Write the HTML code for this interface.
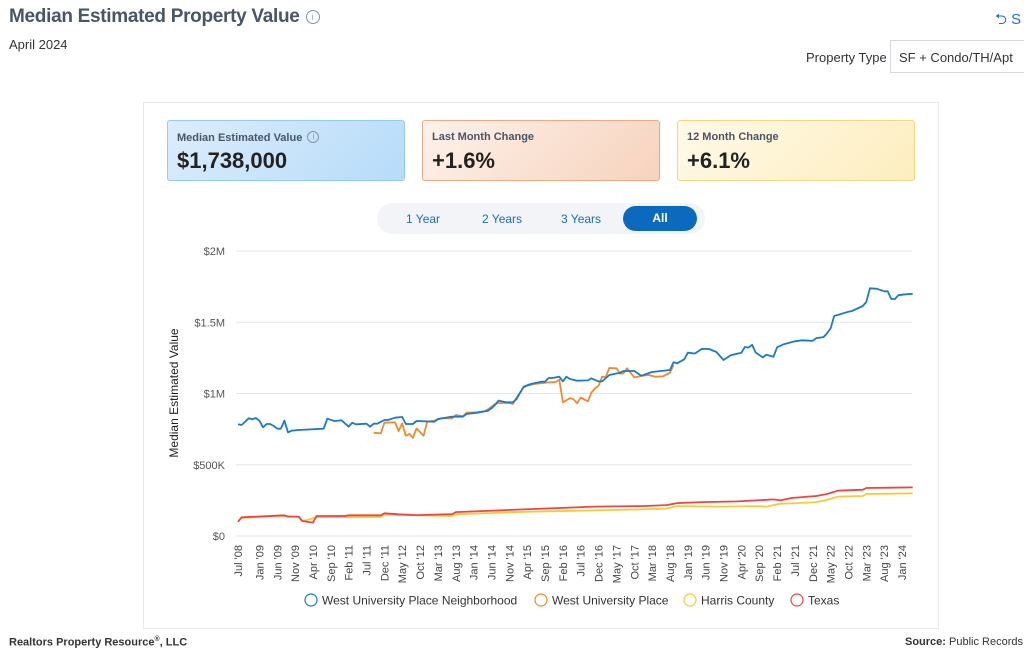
<!DOCTYPE html>
<html><head><meta charset="utf-8">
<style>
body{margin:0;width:1024px;height:650px;overflow:hidden;background:#fff;font-family:"Liberation Sans",sans-serif;position:relative;color:#333}
.abs{position:absolute}
.title{left:9px;top:6px;font-size:19px;font-weight:bold;color:#4a5568;letter-spacing:-0.3px}
.info{display:inline-block;width:12px;height:12px;border:1px solid #8a94a6;border-radius:50%;font-size:9px;text-align:center;line-height:12px;color:#8a94a6;font-weight:normal;vertical-align:2px;margin-left:6px}
.card{left:143px;top:102px;width:796px;height:527px;border:1px solid #e6eaef;box-sizing:border-box}
.kpi{top:120px;width:238px;height:61px;box-sizing:border-box;border-radius:3px}
.kpi .l{position:absolute;left:9px;top:10px;font-size:11px;font-weight:bold;color:#4a5568}
.kpi .v{position:absolute;left:9px;top:27px;font-size:22px;font-weight:bold;color:#222}
.tog{left:377px;top:203px;width:328px;height:31px;background:#f2f4f8;border-radius:16px}
.tb{top:212px;font-size:12px;color:#1a6fba}
</style></head><body>
<div class="abs title">Median Estimated Property Value<span class="info">i</span></div>
<div class="abs" style="left:9px;top:37px;font-size:13px;color:#333">April 2024</div>
<div class="abs" style="left:995px;top:9px;font-size:15px;color:#1a73c8">⮌ S</div>
<div class="abs" style="left:806px;top:50px;font-size:13px;color:#333">Property Type</div>
<div class="abs" style="left:890px;top:40px;width:150px;height:33px;border:1px solid #d5d9df;box-sizing:border-box;font-size:13px;padding:9px 8px;color:#333">SF + Condo/TH/Apt</div>
<div class="abs card"></div>
<div class="abs kpi" style="left:167px;background:linear-gradient(135deg,#dcedfb,#b6dbfa);border:1px solid #94cbf1"><div class="l">Median Estimated Value <span class="info" style="width:10px;height:10px;line-height:10px;font-size:8px;margin-left:2px">i</span></div><div class="v">$1,738,000</div></div>
<div class="abs kpi" style="left:422px;background:linear-gradient(135deg,#fdf2ea,#f7d2bd);border:1px solid #eda987"><div class="l">Last Month Change</div><div class="v">+1.6%</div></div>
<div class="abs kpi" style="left:677px;background:linear-gradient(135deg,#fff9e8,#fdeebf);border:1px solid #f3d77f"><div class="l">12 Month Change</div><div class="v">+6.1%</div></div>
<div class="abs tog"></div>
<div class="abs tb" style="left:406px">1 Year</div>
<div class="abs tb" style="left:482px">2 Years</div>
<div class="abs tb" style="left:561px">3 Years</div>
<div class="abs" style="left:623px;top:206px;width:74px;height:25px;background:#0b69be;border-radius:13px;color:#fff;font-size:12px;font-weight:bold;text-align:center;line-height:25px">All</div>
<svg class="abs" style="left:0;top:0" width="1024" height="650" id="chart"></svg>
<div class="abs" style="left:9px;top:636px;font-size:11px;color:#333;font-weight:bold">Realtors Property Resource<sup style="font-size:7px">®</sup>, LLC</div>
<div class="abs" style="left:905px;top:636px;font-size:11px;color:#333;white-space:nowrap"><b>Source:</b> Public Records and</div>
<script>
const yTicks=[0,500,1000,1500,2000];
const yTickLabels=["$0","$500K","$1M","$1.5M","$2M"];
const xLabels=["Jul '08","Jan '09","Jun '09","Nov '09","Apr '10","Sep '10","Feb '11","Jul '11","Dec '11","May '12","Oct '12","Mar '13","Aug '13","Jan '14","Jun '14","Nov '14","Apr '15","Sep '15","Feb '16","Jul '16","Dec '16","May '17","Oct '17","Mar '18","Aug '18","Jan '19","Jun '19","Nov '19","Apr '20","Sep '20","Feb '21","Jul '21","Dec '21","May '22","Oct '22","Mar '23","Aug '23","Jan '24"];
const xLabelMonths=[0,6,11,16,21,26,31,36,41,46,51,56,61,66,71,76,81,86,91,96,101,106,111,116,121,126,131,136,141,146,151,156,161,166,171,176,181,186];
// month index from Jul '08, values in $K
const nbhdMonths=[0,1,3,4,5,6,7,8,9,10,11,12,13,14,15,17,24,25,27,29,31,32,33,36,37,38,39,41,42,44,46,47,49,50,55,56,60,63,64,67,70,71,72,73,75,77,78,80,82,85,86,87,88,90,91,92,93,95,98,99,101,102,104,107,108,111,113,116,121,122,123,125,126,128,130,132,134,136,138,141,142,143,144,145,147,148,150,151,153,156,158,161,162,164,165,166,167,171,172,175,176,177,179,181,182,183,184,185,187,189];
const nbhdValues=[784,779,826,819,828,809,763,786,786,772,753,753,809,727,739,744,753,823,807,812,767,795,784,788,767,788,788,814,814,830,835,786,786,807,802,821,837,837,856,865,879,896,919,950,938,938,961,1048,1067,1083,1083,1109,1109,1118,1085,1118,1102,1090,1092,1106,1085,1085,1130,1146,1158,1158,1125,1151,1165,1219,1212,1240,1286,1281,1314,1312,1291,1235,1268,1286,1326,1322,1342,1288,1253,1272,1258,1324,1347,1366,1373,1370,1389,1396,1422,1457,1544,1574,1579,1614,1642,1738,1735,1717,1717,1663,1663,1690,1696,1700,1738];
const wupMonths=[38,40,41,44,45,46,47,48,49,50,52,53,55,57,60,61,63,64,67,69,70,72,73,76,77,78,80,81,83,87,89,90,91,93,94,95,96,98,99,100,101,102,103,104,106,107,108,109,111,113,115,117,119,121,122];
const wupValues=[725,720,795,798,737,791,704,716,690,755,704,802,809,826,826,849,840,865,868,875,889,926,933,933,926,971,1043,1055,1067,1078,1081,1097,938,968,959,931,971,945,1006,1036,1055,1118,1116,1179,1177,1139,1141,1177,1113,1123,1130,1118,1120,1146,1200];
const harrisMonths=[1,13,17,18,20,22,40,41,60,61,80,100,113,120,123,135,145,148,152,155,162,165,168,175,176,189];
const harrisValues=[128,140,133,104,118,132,135,150,140,152,170,180,187,192,210,206,210,206,227,229,238,253,276,281,295,299];
const texasMonths=[0,1,13,14,17,18,21,22,30,31,40,41,45,50,60,61,80,100,113,120,123,130,140,150,152,155,162,165,168,175,176,189];
const texasValues=[100,131,145,136,136,105,94,140,140,145,145,159,152,147,154,168,187,206,210,217,231,238,243,257,250,267,281,295,318,325,337,341];

const svg=document.getElementById('chart');
const NS='http://www.w3.org/2000/svg';
const X0=238,PXM=3.57,Y0=536,Y1=251;
const xs=m=>X0+m*PXM;
const ys=v=>Y0-(v/2000)*(Y0-Y1);
function mk(t,a){const e=document.createElementNS(NS,t);for(const k in a)e.setAttribute(k,a[k]);svg.appendChild(e);return e;}
yTicks.forEach((v,i)=>{
  const g=mk('line',{x1:236,x2:912,y1:ys(v),y2:ys(v),stroke:'#e6e6e6','stroke-width':1});
  
  
  const t=mk('text',{x:225,y:ys(v)+4,'text-anchor':'end','font-size':11,fill:'#555','font-family':'Liberation Sans'});
  t.textContent=yTickLabels[i];
  
  
});
const yt=mk('text',{transform:'translate(178,393) rotate(-90)','text-anchor':'middle','font-size':12,fill:'#222','font-family':'Liberation Sans'});
yt.textContent='Median Estimated Value';


xLabels.forEach((l,i)=>{
  const x=xs(xLabelMonths[i]);
  const t=mk('text',{transform:`translate(${x+4},545) rotate(-90)`,'text-anchor':'end','font-size':11,fill:'#444','font-family':'Liberation Sans'});
  t.textContent=l;
  
  
});
function line(ms,vs,color,name){
  const d=ms.map((m,i)=>(i?'L':'M')+xs(m).toFixed(1)+','+ys(vs[i]).toFixed(1)).join('');
  const p=mk('path',{d,fill:'none',stroke:color,'stroke-width':1.8,'stroke-linejoin':'round'});
  
  
}
line(harrisMonths,harrisValues,'#fbc934','harris-county-line');
line(texasMonths,texasValues,'#ef4444','texas-line');
line(wupMonths,wupValues,'#f08a2c','west-university-place-line');
line(nbhdMonths,nbhdValues,'#1a7acb','neighborhood-line');
const legend=[["West University Place Neighborhood",311,'#1a7acb'],["West University Place",541,'#f08a2c'],["Harris County",690,'#fbc934'],["Texas",797,'#ef4444']];
legend.forEach(([n,x,c])=>{
  const ci=mk('circle',{cx:x,cy:600,r:6,fill:'#fff',stroke:c,'stroke-width':1.2});
  
  
  const t=mk('text',{x:x+11,y:604.5,'font-size':12,fill:'#333','font-family':'Liberation Sans'});
  t.textContent=n;
  
  
});
</script>
</body></html>
